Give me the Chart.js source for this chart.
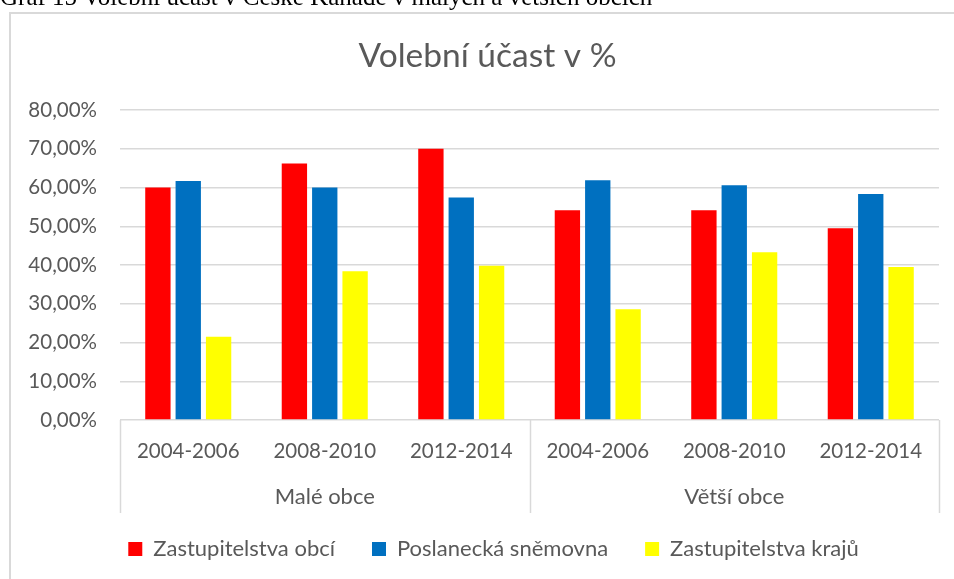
<!DOCTYPE html>
<html><head><meta charset="utf-8">
<script src="https://cdn.jsdelivr.net/npm/chart.js@4"></script>
<style>
html,body{margin:0;padding:0;background:#fff;width:954px;height:579px;overflow:hidden;}
#cap{position:absolute;left:0;top:-16px;font-family:"Liberation Serif","Times New Roman",serif;font-size:25px;line-height:25px;color:#000;white-space:nowrap;z-index:2;}
#frame{position:absolute;left:9px;top:12px;width:1000px;height:1000px;border-left:2px solid #d9d9d9;border-top:2px solid #d9d9d9;}
#wrap{position:absolute;left:0;top:0;width:954px;height:579px;z-index:1;}
</style></head><body>
<div id="frame"></div>
<div id="cap">Graf 15 Volební účast v České Kanadě v malých a větších obcích</div>
<div id="wrap"><canvas id="c" width="954" height="579"></canvas></div>
<script>
const periods = ['2004-2006','2008-2010','2012-2014','2004-2006','2008-2010','2012-2014'];
const groups = ['Malé obce','Větší obce'];
const seriesNames = ['Zastupitelstva obcí','Poslanecká sněmovna','Zastupitelstva krajů'];
const obce = [60.0, 66.2, 70.0, 54.1, 54.1, 49.5];
const snemovna = [61.7, 60.0, 57.4, 61.9, 60.6, 58.3];
const kraje = [21.5, 38.4, 39.8, 28.6, 43.3, 39.5];
const yMin = 0, yMax = 80, yStep = 10;

const FONT = 'Lato, "Open Sans", sans-serif';
const TXT = '#595959';
const GRID = '#d9d9d9';

function shiftDraw(box, dx, dy) {
  if (!box || box._shifted) return;
  const orig = box.draw;
  box.draw = function (...a) {
    const ctx = this.ctx || this.chart.ctx;
    ctx.save(); ctx.translate(dx, dy); orig.apply(this, a); ctx.restore();
  };
  box._shifted = true;
}

const boxTweaks = {
  id: 'boxTweaks',
  beforeLayout(chart) {
    const lg = chart.legend;
    if (lg && !lg._fitWrapped) {
      const orig = lg.fit;
      lg.fit = function () { orig.call(this); this.height = 68; };
      lg._fitWrapped = true;
    }
    shiftDraw(lg, 19, -10);
    shiftDraw(chart.titleBlock, 13, 0);
  }
};

const separators = {
  id: 'separators',
  afterDraw(chart) {
    const x = chart.scales.x, x2 = chart.scales.x2, ctx = chart.ctx;
    const n = periods.length;
    const mid = (x.getPixelForValue(n / 2 - 1) + x.getPixelForValue(n / 2)) / 2;
    const xs = [chart.chartArea.left, mid, chart.chartArea.right];
    ctx.save();
    ctx.strokeStyle = GRID;
    ctx.lineWidth = 1.5;
    xs.forEach(px => {
      ctx.beginPath();
      ctx.moveTo(Math.round(px) + 0.5, chart.chartArea.bottom);
      ctx.lineTo(Math.round(px) + 0.5, x2.bottom + 2);
      ctx.stroke();
    });
    ctx.restore();
  }
};

new Chart(document.getElementById('c'), {
  type: 'bar',
  data: {
    labels: periods,
    datasets: [
      { label: seriesNames[0], data: obce, backgroundColor: '#FF0000', borderWidth: 0 },
      { label: seriesNames[1], data: snemovna, backgroundColor: '#0070C0', borderWidth: 0 },
      { label: seriesNames[2], data: kraje, backgroundColor: '#FFFF00', borderWidth: 0 }
    ]
  },
  options: {
    responsive: false,
    animation: false,
    devicePixelRatio: 1,
    layout: { padding: { left: 10, right: 15, top: 0, bottom: 0 } },
    datasets: { bar: { categoryPercentage: 0.667, barPercentage: 0.835 } },
    plugins: {
      title: {
        display: true,
        text: 'Volební účast v %',
        color: TXT,
        font: { family: FONT, size: 33.5, weight: 'normal' },
        padding: { top: 36, bottom: 33.8 }
      },
      legend: {
        position: 'bottom',
        labels: {
          color: TXT,
          font: { family: FONT, size: 22 },
          boxWidth: 14, boxHeight: 14,
          padding: 37
        }
      },
      tooltip: { enabled: false }
    },
    scales: {
      x: {
        type: 'category',
        offset: true,
        grid: { display: false, drawTicks: false },
        border: { display: false },
        ticks: { color: TXT, font: { family: FONT, size: 20.5 }, padding: 18.7, maxRotation: 0, autoSkip: false },
        afterFit(s) { s.height = 48; }
      },
      x2: {
        type: 'category',
        labels: groups,
        position: 'bottom',
        offset: true,
        grid: { display: false, drawTicks: false },
        border: { display: false },
        ticks: { color: TXT, font: { family: FONT, size: 22 }, padding: 15.8, maxRotation: 0 },
        afterFit(s) { s.height = 43; }
      },
      y: {
        min: yMin, max: yMax,
        ticks: {
          stepSize: yStep,
          color: TXT,
          font: { family: FONT, size: 20.5 },
          padding: 23,
          callback: v => v.toFixed(2).replace('.', ',') + '%'
        },
        grid: { color: GRID, lineWidth: 1.5, drawTicks: false },
        border: { display: false },
        afterFit(s) { s.width = 110; }
      }
    }
  },
  plugins: [boxTweaks, separators]
});
</script>
</body></html>
